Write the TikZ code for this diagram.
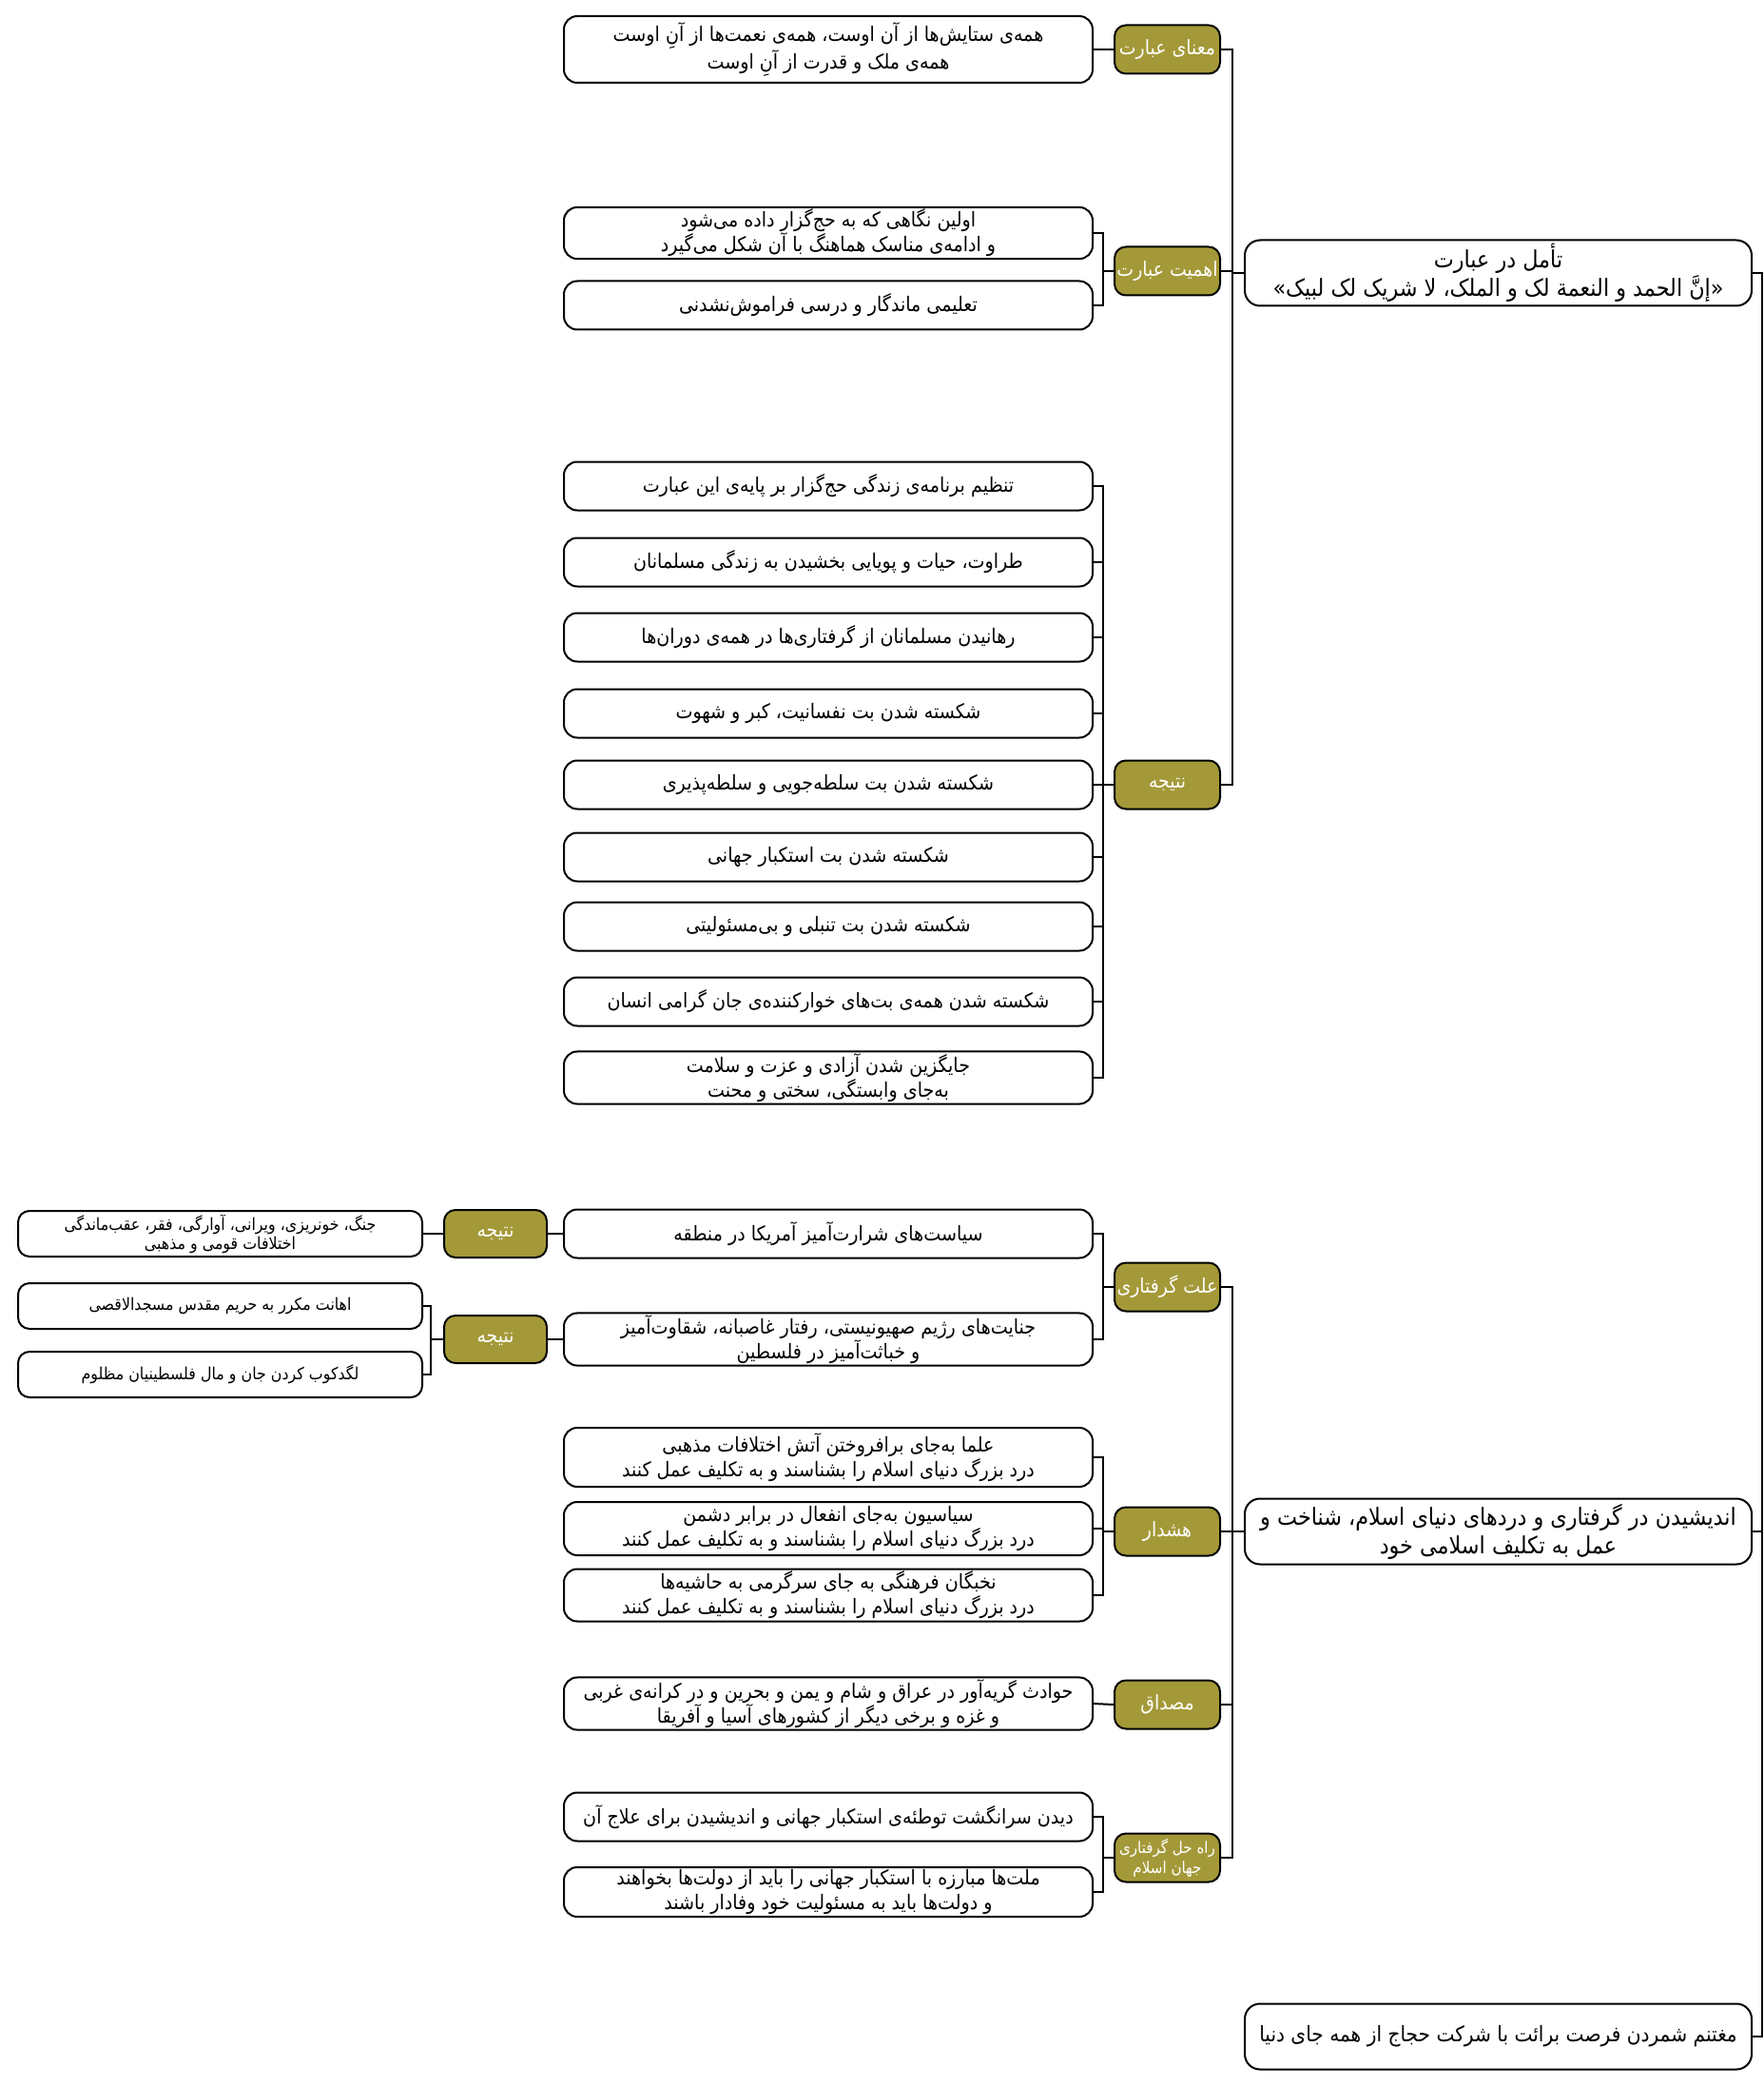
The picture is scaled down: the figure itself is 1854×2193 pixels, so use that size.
\documentclass[tikz,border=0pt]{standalone}
\usepackage{fontspec}
\usepackage{xcolor}
\usepackage{tikz}
\newfontfamily\farsi[Script=Arabic,FakeStretch=0.9]{DejaVu Sans}
\TeXXeTstate=1
\newcommand{\rline}[1]{\beginR #1\endR}
\definecolor{catolive}{RGB}{164,153,56}

\begin{document}
\begin{tikzpicture}[x=0.5pt,y=-0.5pt]
      \tikzset{root/.style={rectangle,draw,line width=1pt,rounded corners=8pt,minimum width=266.5pt,minimum height=34.5pt,align=center,inner sep=1pt,font=\farsi\fontsize{12.4}{15}\selectfont}}
      \tikzset{cat/.style={rectangle,draw,line width=1pt,fill=catolive,text=white,rounded corners=6pt,minimum width=55.5pt,minimum height=25.5pt,align=center,inner sep=1pt,font=\farsi\fontsize{10.5}{12}\selectfont}}
      \tikzset{leaf/.style={rectangle,draw,line width=1pt,rounded corners=7pt,minimum width=278pt,minimum height=25.5pt,align=center,inner sep=1pt,font=\farsi\fontsize{10.6}{13}\selectfont}}
      \tikzset{subcat/.style={cat,minimum width=54pt,minimum height=25pt}}
      \tikzset{small/.style={leaf,minimum width=212.5pt,minimum height=24pt,rounded corners=6pt,font=\farsi\fontsize{8.8}{10}\selectfont}}
      \tikzset{link/.style={draw,line width=1pt}}

      \useasboundingbox (0,0) rectangle (1854,2193);

      \coordinate (top) at (1854,1086);
      \node[root] (tamol) at (1575.5,287) {\rline{تأمل در عبارت}\\\rline{«إنَّ الحمد و النعمة لک و الملک، لا شریک لک لبیک»}};
      \node[root] (andishe) at (1575.5,1610) {\rline{اندیشیدن در گرفتاری و دردهای دنیای اسلام، شناخت و}\\\rline{عمل به تکلیف اسلامی خود}};
      \node[root,font=\farsi\fontsize{11.2}{14}\selectfont] (ghanimat) at (1575.5,2141) {\rline{مغتنم شمردن فرصت برائت با شرکت حجاج از همه جای دنیا}};

      \node[cat] (mana) at (1227.5,52) {\rline{معنای عبارت}};
      \node[cat] (ahamiat) at (1227.5,285) {\rline{اهمیت عبارت}};
      \node[cat] (natije) at (1227.5,825) {\rline{نتیجه}};
      \node[cat] (ellat) at (1227.5,1353) {\rline{علت گرفتاری}};
      \node[cat] (hoshdar) at (1227.5,1610) {\rline{هشدار}};
      \node[cat] (mesdagh) at (1227.5,1792) {\rline{مصداق}};
      \node[cat,font=\farsi\fontsize{8.4}{10.5}\selectfont] (rahehal) at (1227.5,1953) {\rline{راه حل گرفتاری}\\\rline{جهان اسلام}};

      \node[leaf,minimum height=35pt] (mana1) at (871,52) {\rline{همه‌ی ستایش‌ها از آن اوست، همه‌ی نعمت‌ها از آنِ اوست}\\\rline{همه‌ی ملک و قدرت از آنِ اوست}};

      \node[leaf,minimum height=27pt] (ahamiat1) at (871,245) {\rline{اولین نگاهی که به حج‌گزار داده می‌شود}\\\rline{و ادامه‌ی مناسک هماهنگ با آن شکل می‌گیرد}};
      \node[leaf] (ahamiat2) at (871,321) {\rline{تعلیمی ماندگار و درسی فراموش‌نشدنی}};

      \node[leaf] (natije1) at (871,511) {\rline{تنظیم برنامه‌ی زندگی حج‌گزار بر پایه‌ی این عبارت}};
      \node[leaf] (natije2) at (871,591) {\rline{طراوت، حیات و پویایی بخشیدن به زندگی مسلمانان}};
      \node[leaf] (natije3) at (871,670) {\rline{رهانیدن مسلمانان از گرفتاری‌ها در همه‌ی دوران‌ها}};
      \node[leaf] (natije4) at (871,750) {\rline{شکسته شدن بت نفسانیت، کبر و شهوت}};
      \node[leaf] (natije5) at (871,825) {\rline{شکسته شدن بت سلطه‌جویی و سلطه‌پذیری}};
      \node[leaf] (natije6) at (871,901) {\rline{شکسته شدن بت استکبار جهانی}};
      \node[leaf] (natije7) at (871,974) {\rline{شکسته شدن بت تنبلی و بی‌مسئولیتی}};
      \node[leaf] (natije8) at (871,1053) {\rline{شکسته شدن همه‌ی بت‌های خوارکننده‌ی جان گرامی انسان}};
      \node[leaf,minimum height=26pt] (natije9) at (871,1133) {\rline{جایگزین شدن آزادی و عزت و سلامت}\\\rline{به‌جای وابستگی، سختی و محنت}};

      \node[leaf] (ellat1) at (871,1297) {\rline{سیاست‌های شرارت‌آمیز آمریکا در منطقه}};
      \node[leaf,minimum height=27pt] (ellat2) at (871,1408) {\rline{جنایت‌های رژیم صهیونیستی، رفتار غاصبانه، شقاوت‌آمیز}\\\rline{و خباثت‌آمیز در فلسطین}};
      \node[subcat] (pay) at (521,1297) {\rline{نتیجه}};
      \node[subcat] (pay2) at (521,1408) {\rline{نتیجه}};
      \node[small] (pay1a) at (231.5,1297) {\rline{جنگ، خونریزی، ویرانی، آوارگی، فقر، عقب‌ماندگی}\\\rline{اختلافات قومی و مذهبی}};
      \node[small] (pay2a) at (231.5,1373) {\rline{اهانت مکرر به حریم مقدس مسجدالاقصی}};
      \node[small] (pay2b) at (231.5,1445) {\rline{لگدکوب کردن جان و مال فلسطینیان مظلوم}};

      \node[leaf,minimum height=31pt] (hoshdar1) at (871,1532) {\rline{علما به‌جای برافروختن آتش اختلافات مذهبی}\\\rline{درد بزرگ دنیای اسلام را بشناسند و به تکلیف عمل کنند}};
      \node[leaf,minimum height=28pt] (hoshdar2) at (871,1607) {\rline{سیاسیون به‌جای انفعال در برابر دشمن}\\\rline{درد بزرگ دنیای اسلام را بشناسند و به تکلیف عمل کنند}};
      \node[leaf,minimum height=27.5pt] (hoshdar3) at (871,1677) {\rline{نخبگان فرهنگی به جای سرگرمی به حاشیه‌ها}\\\rline{درد بزرگ دنیای اسلام را بشناسند و به تکلیف عمل کنند}};

      \node[leaf,minimum height=27.5pt] (mesdagh1) at (871,1791) {\rline{حوادث گریه‌آور در عراق و شام و یمن و بحرین و در کرانه‌ی غربی}\\\rline{و غزه و برخی دیگر از کشورهای آسیا و آفریقا}};

      \node[leaf] (rahehal1) at (871,1910) {\rline{دیدن سرانگشت توطئه‌ی استکبار جهانی و اندیشیدن برای علاج آن}};
      \node[leaf,minimum height=26pt] (rahehal2) at (871,1989) {\rline{ملت‌ها مبارزه با استکبار جهانی را باید از دولت‌ها بخواهند}\\\rline{و دولت‌ها باید به مسئولیت خود وفادار باشند}};

      \foreach \n in {tamol,andishe,ghanimat}
        \draw[link] (\n.east) -- ++(10,0) |- (top);
      \foreach \c in {mana,ahamiat,natije}
        \draw[link] (tamol.west) -- ++(-12,0) |- (\c.east);
      \foreach \c in {ellat,hoshdar,mesdagh,rahehal}
        \draw[link] (andishe.west) -- ++(-12,0) |- (\c.east);

      \draw[link] (mana.west) -- (mana1.east);
      \foreach \i in {1,2}
        \draw[link] (ahamiat.west) -- ++(-11,0) |- (ahamiat\i.east);
      \foreach \i in {1,...,9}
        \draw[link] (natije.west) -- ++(-11,0) |- (natije\i.east);
      \foreach \i in {1,2}
        \draw[link] (ellat.west) -- ++(-11,0) |- (ellat\i.east);
      \draw[link] (ellat1.west) -- (pay.east);
      \draw[link] (pay.west) -- (pay1a.east);
      \draw[link] (ellat2.west) -- (pay2.east);
      \foreach \i in {a,b}
        \draw[link] (pay2.west) -- ++(-13,0) |- (pay2\i.east);
      \foreach \i in {1,2,3}
        \draw[link] (hoshdar.west) -- ++(-11,0) |- (hoshdar\i.east);
      \draw[link] (mesdagh.west) -- (mesdagh1.east);
      \foreach \i in {1,2}
        \draw[link] (rahehal.west) -- ++(-11,0) |- (rahehal\i.east);
\end{tikzpicture}
\end{document}
